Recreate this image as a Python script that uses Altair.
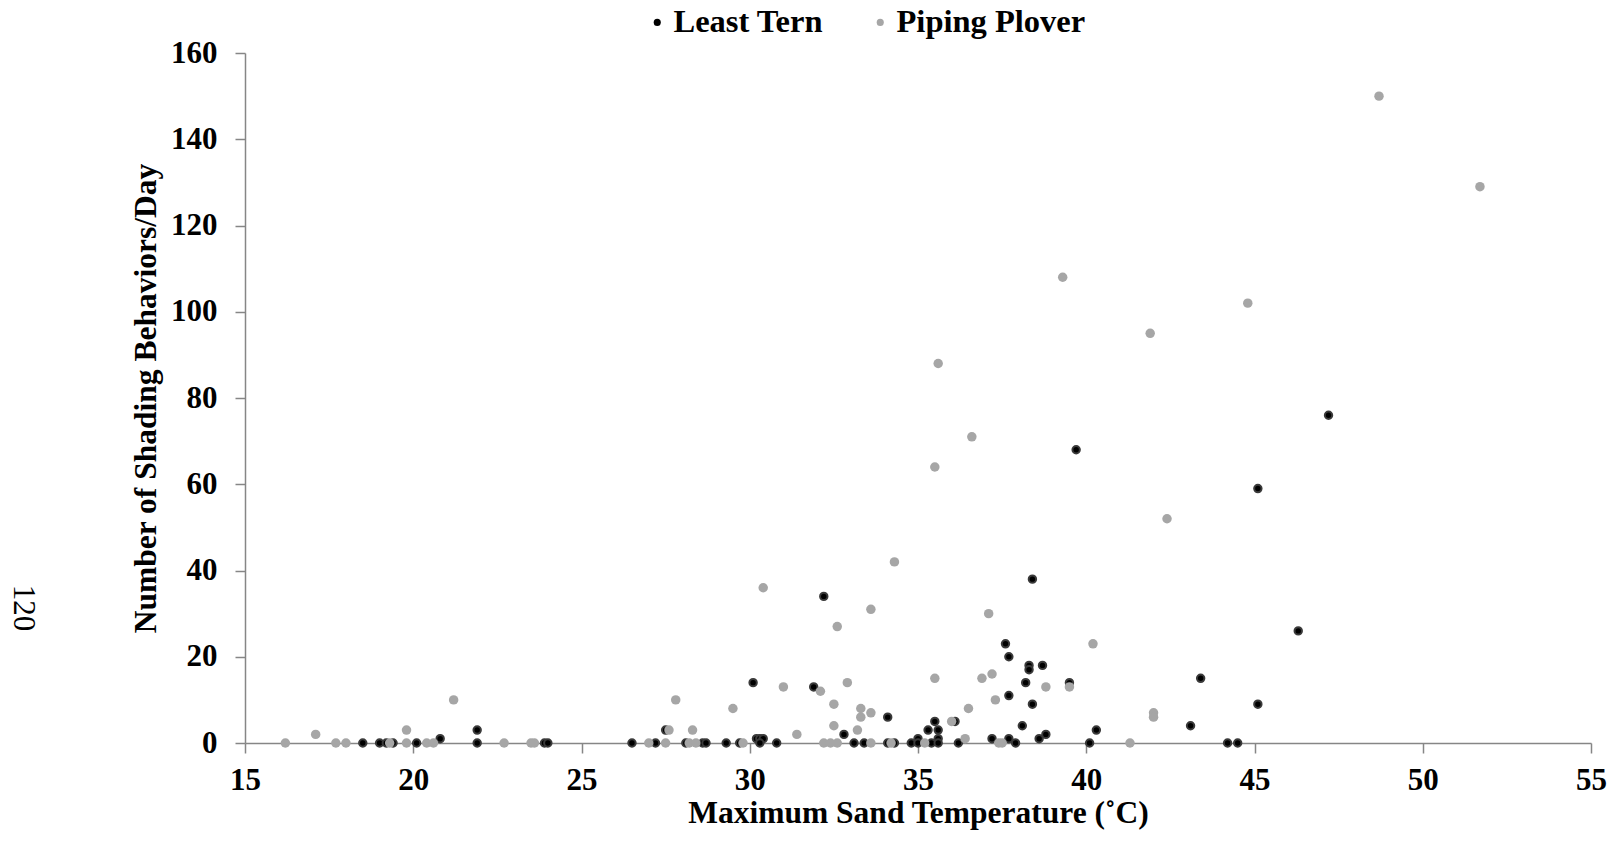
import altair as alt
import pandas as pd

# ---- data ----
tern_temp = [18.5, 19.0, 19.2, 19.4, 20.1, 20.8, 21.9, 21.9, 23.9, 24.0,
             26.5, 27.2, 27.5, 28.1, 28.6, 28.7, 29.3, 29.7,
             30.1, 30.2, 30.3, 30.4, 30.3, 30.8, 31.9, 32.2, 32.8, 33.1, 33.4,
             34.1, 34.1, 34.3, 34.8, 35.0, 35.0, 35.3, 35.4, 35.5, 35.6, 35.6, 35.6,
             36.1, 36.2, 37.2, 37.6, 37.7, 37.7, 37.7, 37.9, 38.1, 38.2, 38.3, 38.3,
             38.4, 38.4, 38.6, 38.7, 38.8, 39.5, 39.7,
             40.1, 40.3, 43.1, 43.4, 44.2, 44.5, 45.1, 45.1, 46.3, 47.2]
tern_count = [0, 0, 0, 0, 0, 1, 3, 0, 0, 0,
              0, 0, 3, 0, 0, 0, 0, 0,
              14, 1, 1, 1, 0, 0, 13, 34, 2, 0, 0,
              6, 0, 0, 0, 1, 0, 3, 0, 5, 3, 1, 0,
              5, 0, 1, 23, 20, 11, 1, 0, 4, 14, 18, 17,
              38, 9, 1, 18, 2, 14, 68,
              0, 3, 4, 15, 0, 0, 59, 9, 26, 76]

plover_temp = [16.2, 17.1, 17.7, 18.0, 19.3, 19.8, 19.8, 20.4, 20.6, 21.2, 22.7, 23.5, 23.6,
               27.0, 27.5, 27.6, 27.8, 28.2, 28.4, 28.3, 29.5, 29.8,
               30.4, 31.0, 31.4, 32.1, 32.2, 32.4, 32.6, 32.5, 32.5, 32.6, 32.9, 33.2,
               33.3, 33.3, 33.6, 33.6, 33.6,
               34.2, 34.3, 35.2, 35.5, 35.5, 35.6, 36.0, 36.4, 36.5, 36.6, 36.9, 37.1,
               37.2, 37.3, 37.4, 37.5, 38.8, 39.3, 39.5,
               40.2, 41.3, 41.9, 42.0, 42.0, 42.4, 44.8, 48.7, 51.7]
plover_count = [0, 2, 0, 0, 0, 3, 0, 0, 0, 10, 0, 0, 0,
                0, 0, 3, 10, 0, 0, 3, 8, 0,
                36, 13, 2, 12, 0, 0, 0, 9, 4, 27, 14, 3,
                8, 6, 7, 0, 31,
                0, 42, 0, 15, 64, 88, 5, 1, 8, 71, 15, 30,
                16, 10, 0, 0, 13, 108, 13,
                23, 0, 95, 7, 6, 52, 102, 150, 129]

species = ["Least Tern", "Piping Plover"]
species_colors = ["#000000", "#A6A6A6"]
x_ticks = [15, 20, 25, 30, 35, 40, 45, 50, 55]
y_ticks = [0, 20, 40, 60, 80, 100, 120, 140, 160]
page_label = ["120"]

tern_df = pd.DataFrame({"temp": tern_temp, "count": tern_count,
                        "species": species[0]})
plover_df = pd.DataFrame({"temp": plover_temp, "count": plover_count,
                          "species": species[1]})
page_df = pd.DataFrame({"page": page_label})

FONT = "Liberation Serif"

x_enc = alt.X("temp:Q",
              scale=alt.Scale(domain=[15, 55], nice=False, zero=False),
              axis=alt.Axis(values=x_ticks, title="Maximum Sand Temperature (˚C)",
                            titleY=79, titleBaseline="alphabetic",
                            labelPadding=12, labelFlush=False))
y_enc = alt.Y("count:Q",
              scale=alt.Scale(domain=[0, 160], nice=False),
              axis=alt.Axis(values=y_ticks, title="Number of Shading Behaviors/Day",
                            titleX=-90, titleBaseline="alphabetic",
                            labelPadding=18, labelFlush=False))
color_enc = alt.Color("species:N",
                      scale=alt.Scale(domain=species, range=species_colors),
                      title=None,
                      legend=alt.Legend(orient="none", direction="horizontal",
                                        legendX=396, legendY=-47,
                                        symbolType="circle", symbolSize=50,
                                        symbolStrokeWidth=0, labelOffset=0,
                                        columnPadding=40, padding=0,
                                        labelLimit=500,
                                        labelFont=FONT, labelFontSize=32.5,
                                        labelFontWeight="bold", labelColor="#000000"))

tern = alt.Chart(tern_df).mark_circle(
    size=55, opacity=1, stroke="#3a3a3a", strokeWidth=2
).encode(x=x_enc, y=y_enc, color=color_enc)

plover = alt.Chart(plover_df).mark_circle(
    size=90, opacity=1
).encode(x=x_enc, y=y_enc, color=color_enc)

page = alt.Chart(page_df).mark_text(
    font=FONT, fontSize=31, fontWeight="normal", color="#000000",
    angle=90, align="center", baseline="middle"
).encode(text="page:N", x=alt.value(-222), y=alt.value(555))

chart = alt.layer(tern, plover, page).properties(
    width=1346, height=690,
    autosize=alt.AutoSizeParams(type="none"),
    padding={"left": 245, "top": 53, "right": 24, "bottom": 102},
    background="#ffffff"
).configure_view(
    stroke=None
).configure_axis(
    grid=False,
    domainColor="#868686", domainWidth=1.5,
    tickColor="#868686", tickWidth=1.5, tickSize=10,
    labelFont=FONT, labelFontSize=31, labelFontWeight="bold", labelColor="#000000",
    titleFont=FONT, titleFontSize=31.5, titleFontWeight="bold", titleColor="#000000"
)

chart.save("out.html", embed_options={"renderer": "svg", "actions": False})
